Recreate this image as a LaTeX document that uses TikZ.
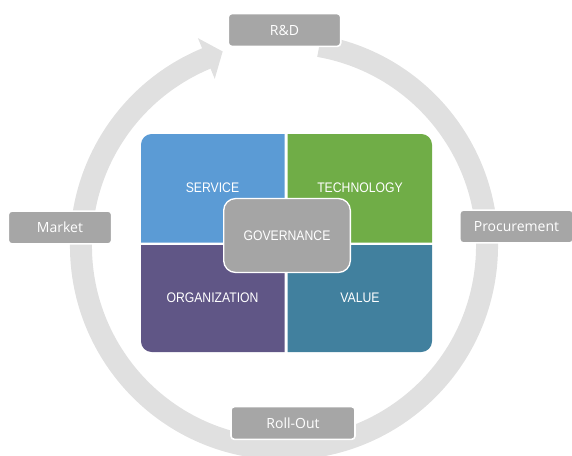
\documentclass[tikz,border=0pt]{standalone}
\usepackage{fontspec}
\setmainfont{Open Sans}
\newfontfamily\quadfont[FakeStretch=0.88]{Liberation Sans}
\usetikzlibrary{positioning}
\definecolor{ringgray}{RGB}{224,224,224}
\definecolor{labelgray}{RGB}{166,166,166}
\definecolor{govgray}{RGB}{165,165,165}
\definecolor{serviceblue}{RGB}{91,155,213}
\definecolor{techgreen}{RGB}{112,173,71}
\definecolor{orgpurple}{RGB}{96,86,134}
\definecolor{valueteal}{RGB}{65,128,158}

\begin{document}
\begin{tikzpicture}[x=0.75pt, y=0.75pt,
    stage/.style={draw=white, line width=1.2pt, fill=labelgray, rounded corners=2.5pt,
        minimum height=24.5pt, inner sep=0pt, text=white, font=\fontsize{10.5}{12}\selectfont},
    quadtext/.style={inner sep=0pt, text=white, font=\quadfont\fontsize{10.4}{12}\selectfont}]
    \useasboundingbox (0,0) rectangle (572,455);
    \coordinate (ctr) at (284,209);

    % Cycle ring
    \draw[ringgray, line width=16.5pt] ([shift={(80:203)}]ctr)
          arc[start angle=80, end angle=-247.8, radius=203];
    \fill[ringgray] ([shift={(112.5:225)}]ctr) -- ([shift={(107.5:204)}]ctr)
          -- ([shift={(112.5:181)}]ctr) -- cycle;

    % Stages
    \node[stage, minimum width=84.3pt] (rd) at (284.5,425) {R\&D};
    \node[stage, minimum width=77.5pt] (market) at (60,227.5) {Market};
    \node[stage, minimum width=85pt] (procurement) at (516.5,228.5) {Procurement};
    \node[stage, minimum width=93pt] (rollout) at (293,32) {Roll-Out};

    % Quadrants
    \fill[serviceblue] (212,321) [rounded corners=8pt] -- (141,321) -- (141,267)
          [sharp corners] -- (141,212.5) -- (284.5,212.5) -- (284.5,321) -- cycle;
    \fill[techgreen] (360,321) [rounded corners=8pt] -- (432,321) -- (432,267)
          [sharp corners] -- (432,212.5) -- (287.5,212.5) -- (287.5,321) -- cycle;
    \fill[orgpurple] (212,103) [rounded corners=8pt] -- (141,103) -- (141,157)
          [sharp corners] -- (141,210) -- (284.5,210) -- (284.5,103) -- cycle;
    \fill[valueteal] (360,103) [rounded corners=8pt] -- (432,103) -- (432,157)
          [sharp corners] -- (432,210) -- (287.5,210) -- (287.5,103) -- cycle;

    \node[quadtext] (service) at (212.5,267) {SERVICE};
    \node[quadtext] (technology) at (360,267) {TECHNOLOGY};
    \node[quadtext] (organization) at (212.5,157) {ORGANIZATION};
    \node[quadtext] (value) at (360,157) {VALUE};

    % Centre
    \node[quadtext, draw=white, line width=1pt, fill=govgray, rounded corners=9pt,
          minimum width=95pt, minimum height=55.5pt] (governance) at (287,219.5) {GOVERNANCE};
\end{tikzpicture}
\end{document}
